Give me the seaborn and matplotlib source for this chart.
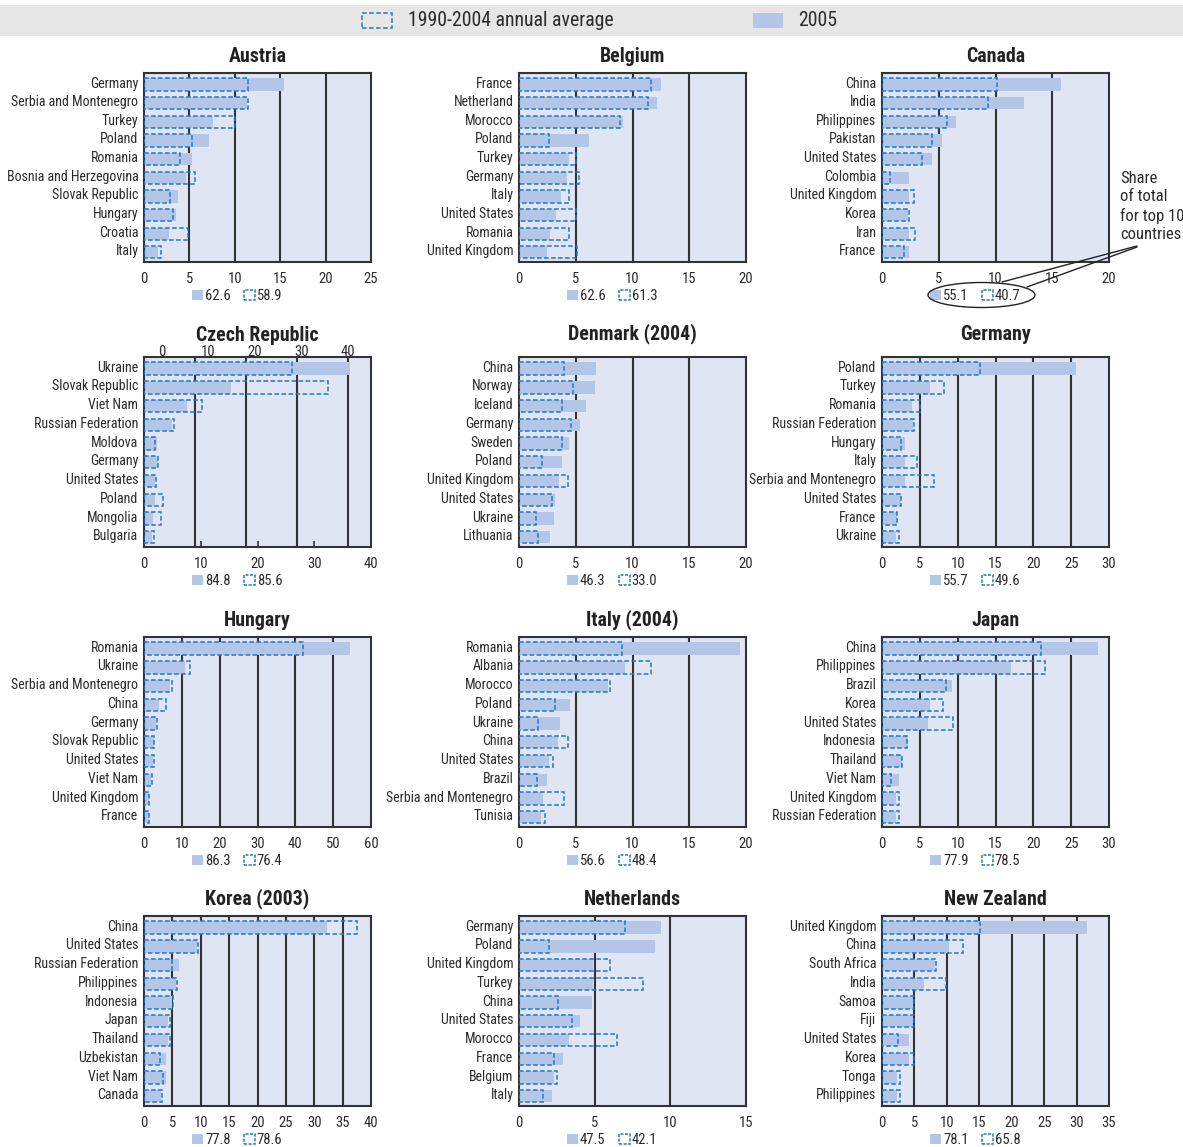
import matplotlib
matplotlib.use("Agg")
import matplotlib.pyplot as plt
import seaborn as sns
import numpy as np
from matplotlib import font_manager
from matplotlib.patches import Rectangle, Patch, Ellipse
from matplotlib.lines import Line2D
from matplotlib.transforms import ScaledTranslation

# ---------------- data: share of inflows by country of origin (%) ----------------
AUSTRIA_COUNTRIES = ["Germany", "Serbia and Montenegro", "Turkey", "Poland", "Romania",
                     "Bosnia and Herzegovina", "Slovak Republic", "Hungary", "Croatia", "Italy"]
AUSTRIA_2005 = [15.4, 11.3, 7.6, 7.2, 5.3, 4.6, 3.7, 3.5, 2.7, 1.5]
AUSTRIA_AVG = [11.4, 11.4, 10.0, 5.3, 4.0, 5.6, 2.9, 3.2, 4.8, 1.9]
AUSTRIA_TOTALS = [62.6, 58.9]

BELGIUM_COUNTRIES = ["France", "Netherland", "Morocco", "Poland", "Turkey", "Germany",
                     "Italy", "United States", "Romania", "United Kingdom"]
BELGIUM_2005 = [12.5, 12.2, 9.2, 6.2, 4.4, 4.2, 3.7, 3.3, 2.7, 2.5]
BELGIUM_AVG = [11.6, 11.4, 8.9, 2.6, 5.0, 5.3, 4.4, 5.0, 4.4, 5.1]
BELGIUM_TOTALS = [62.6, 61.3]

CANADA_COUNTRIES = ["China", "India", "Philippines", "Pakistan", "United States", "Colombia",
                    "United Kingdom", "Korea", "Iran", "France"]
CANADA_2005 = [15.8, 12.5, 6.5, 5.3, 4.4, 2.4, 2.4, 2.3, 2.4, 2.4]
CANADA_AVG = [10.1, 9.3, 5.7, 4.4, 3.5, 0.7, 2.8, 2.4, 2.9, 1.9]
CANADA_TOTALS = [55.1, 40.7]

CZECH_COUNTRIES = ["Ukraine", "Slovak Republic", "Viet Nam", "Russian Federation", "Moldova",
                   "Germany", "United States", "Poland", "Mongolia", "Bulgaria"]
CZECH_2005 = [36.3, 15.4, 7.6, 5.0, 2.3, 2.4, 2.0, 1.9, 1.5, 1.4]
CZECH_AVG = [26.0, 32.5, 10.3, 5.2, 2.0, 2.5, 2.1, 3.3, 3.0, 1.7]
CZECH_TOTALS = [84.8, 85.6]

DENMARK_COUNTRIES = ["China", "Norway", "Iceland", "Germany", "Sweden", "Poland",
                     "United Kingdom", "United States", "Ukraine", "Lithuania"]
DENMARK_2005 = [6.8, 6.7, 5.9, 5.4, 4.4, 3.8, 3.5, 3.2, 3.1, 2.7]
DENMARK_AVG = [4.0, 4.8, 3.8, 4.6, 3.8, 2.0, 4.3, 2.9, 1.5, 1.7]
DENMARK_TOTALS = [46.3, 33.0]

GERMANY_COUNTRIES = ["Poland", "Turkey", "Romania", "Russian Federation", "Hungary", "Italy",
                     "Serbia and Montenegro", "United States", "France", "Ukraine"]
GERMANY_2005 = [25.6, 6.3, 4.0, 4.1, 3.1, 3.1, 3.0, 2.5, 2.0, 1.8]
GERMANY_AVG = [12.9, 8.2, 5.0, 4.2, 2.5, 4.6, 6.9, 2.5, 2.0, 2.2]
GERMANY_TOTALS = [55.7, 49.6]

HUNGARY_COUNTRIES = ["Romania", "Ukraine", "Serbia and Montenegro", "China", "Germany",
                     "Slovak Republic", "United States", "Viet Nam", "United Kingdom", "France"]
HUNGARY_2005 = [54.5, 10.8, 6.9, 4.0, 3.3, 2.6, 2.4, 1.8, 1.2, 1.2]
HUNGARY_AVG = [42.1, 12.1, 7.3, 5.9, 3.5, 2.7, 2.6, 2.1, 1.4, 1.4]
HUNGARY_TOTALS = [86.3, 76.4]

ITALY_COUNTRIES = ["Romania", "Albania", "Morocco", "Poland", "Ukraine", "China",
                   "United States", "Brazil", "Serbia and Montenegro", "Tunisia"]
ITALY_2005 = [19.5, 9.3, 7.8, 4.5, 3.6, 3.4, 2.6, 2.5, 2.1, 1.9]
ITALY_AVG = [9.1, 11.6, 8.0, 3.2, 1.7, 4.3, 3.0, 1.6, 4.0, 2.3]
ITALY_TOTALS = [56.6, 48.4]

JAPAN_COUNTRIES = ["China", "Philippines", "Brazil", "Korea", "United States", "Indonesia",
                   "Thailand", "Viet Nam", "United Kingdom", "Russian Federation"]
JAPAN_2005 = [28.6, 17.1, 9.3, 6.3, 6.1, 3.5, 2.6, 2.2, 1.8, 1.8]
JAPAN_AVG = [21.0, 21.6, 8.5, 8.1, 9.4, 3.3, 2.6, 1.2, 2.3, 2.2]
JAPAN_TOTALS = [77.9, 78.5]

KOREA_COUNTRIES = ["China", "United States", "Russian Federation", "Philippines", "Indonesia",
                   "Japan", "Thailand", "Uzbekistan", "Viet Nam", "Canada"]
KOREA_2005 = [32.2, 9.4, 6.2, 5.7, 5.0, 4.3, 4.3, 3.8, 3.8, 3.0]
KOREA_AVG = [37.5, 9.5, 5.0, 5.8, 5.1, 4.6, 4.5, 2.8, 3.4, 3.1]
KOREA_TOTALS = [77.8, 78.6]

NETHERLANDS_COUNTRIES = ["Germany", "Poland", "United Kingdom", "Turkey", "China",
                         "United States", "Morocco", "France", "Belgium", "Italy"]
NETHERLANDS_2005 = [9.4, 9.0, 4.9, 4.9, 4.8, 4.0, 3.3, 2.9, 2.3, 2.2]
NETHERLANDS_AVG = [7.0, 2.0, 6.0, 8.2, 2.6, 3.5, 6.5, 2.3, 2.5, 1.6]
NETHERLANDS_TOTALS = [47.5, 42.1]

NZ_COUNTRIES = ["United Kingdom", "China", "South Africa", "India", "Samoa", "Fiji",
                "United States", "Korea", "Tonga", "Philippines"]
NZ_2005 = [31.6, 10.3, 8.2, 6.5, 4.8, 4.8, 4.1, 4.1, 2.3, 2.3]
NZ_AVG = [15.1, 12.5, 8.3, 9.9, 4.9, 4.9, 2.4, 4.9, 2.8, 2.8]
NZ_TOTALS = [78.1, 65.8]

PANEL_TITLES = ["Austria", "Belgium", "Canada", "Czech Republic", "Denmark (2004)", "Germany",
                "Hungary", "Italy (2004)", "Japan", "Korea (2003)", "Netherlands", "New Zealand"]
AXIS_MAX = [25, 20, 20, 40, 20, 30, 60, 20, 30, 40, 15, 35]
AXIS_STEP = [5, 5, 5, 10, 5, 5, 10, 5, 5, 5, 5, 5]

LEGEND_LABELS = ["1990-2004 annual average", "2005"]
NOTE_TEXT = "Share\nof total\nfor top 10\ncountries"

# ---------------- style ----------------
FILL = "#b4c6e7"
EDGE = "#1f78c8"
BG = "#dfe5f3"
DARK = "#333333"
TEXT = "#2b2b2b"
DASH = (0, (3.0, 1.6))

sns.set_theme(style="white")
available = {f.name for f in font_manager.fontManager.ttflist}
FONT = next((f for f in ["Liberation Sans Narrow", "Roboto Condensed", "Roboto", "DejaVu Sans"]
             if f in available), "DejaVu Sans")
plt.rcParams["font.family"] = [FONT, "DejaVu Sans"]

W, H = 1183, 1147
fig = plt.figure(figsize=(W / 100, H / 100), dpi=100)
fig.patch.set_facecolor("white")


def box(x0, y0, x1, y1):
    """pixel box (top-left origin) -> figure fraction rect"""
    return [x0 / W, 1 - y1 / H, (x1 - x0) / W, (y1 - y0) / H]


COLS = [(144, 371), (519, 746), (882, 1109)]
ROWS = [(73, 262), (357, 547), (637, 827), (916, 1106)]
ROW_TITLE_PAD = [8, 12.5, 8, 8]

panels = [
    (AUSTRIA_COUNTRIES, AUSTRIA_2005, AUSTRIA_AVG, AUSTRIA_TOTALS),
    (BELGIUM_COUNTRIES, BELGIUM_2005, BELGIUM_AVG, BELGIUM_TOTALS),
    (CANADA_COUNTRIES, CANADA_2005, CANADA_AVG, CANADA_TOTALS),
    (CZECH_COUNTRIES, CZECH_2005, CZECH_AVG, CZECH_TOTALS),
    (DENMARK_COUNTRIES, DENMARK_2005, DENMARK_AVG, DENMARK_TOTALS),
    (GERMANY_COUNTRIES, GERMANY_2005, GERMANY_AVG, GERMANY_TOTALS),
    (HUNGARY_COUNTRIES, HUNGARY_2005, HUNGARY_AVG, HUNGARY_TOTALS),
    (ITALY_COUNTRIES, ITALY_2005, ITALY_AVG, ITALY_TOTALS),
    (JAPAN_COUNTRIES, JAPAN_2005, JAPAN_AVG, JAPAN_TOTALS),
    (KOREA_COUNTRIES, KOREA_2005, KOREA_AVG, KOREA_TOTALS),
    (NETHERLANDS_COUNTRIES, NETHERLANDS_2005, NETHERLANDS_AVG, NETHERLANDS_TOTALS),
    (NZ_COUNTRIES, NZ_2005, NZ_AVG, NZ_TOTALS),
]

BAR_W = 0.66
LABEL_SIZE = 10
label_lift = ScaledTranslation(0, 2.5 / 100, fig.dpi_scale_trans)

for i, (countries, v_now, v_avg, totals) in enumerate(panels):
    r, c = divmod(i, 3)
    (x0, x1), (y0, y1) = COLS[c], ROWS[r]
    ax = fig.add_axes(box(x0, y0, x1, y1))
    ax.set_facecolor(BG)

    sns.barplot(x=v_now, y=countries, ax=ax, orient="h", color=FILL, saturation=1,
                width=BAR_W, errorbar=None, zorder=2, edgecolor="none", linewidth=0)
    n_before = len(ax.patches)
    sns.barplot(x=v_avg, y=countries, ax=ax, orient="h", color=EDGE, saturation=1,
                fill=False, width=BAR_W, errorbar=None, linewidth=1.1, zorder=3)
    for p in ax.patches[n_before:]:
        p.set_linestyle(DASH)
        p.set_edgecolor(EDGE)
        p.set_facecolor("none")

    xmax, step = AXIS_MAX[i], AXIS_STEP[i]
    ticks = np.arange(0, xmax + step / 2, step)
    ax.set_xlim(0, xmax)
    ax.set_ylim(9.52, -0.62)
    ax.set_xticks(ticks)
    ax.set_xticklabels([f"{t:g}" for t in ticks])
    ax.set_xlabel("")
    ax.set_ylabel("")
    ax.tick_params(axis="y", length=0, pad=4, labelsize=LABEL_SIZE, labelcolor=TEXT)
    ax.tick_params(axis="x", length=0, pad=7, labelsize=10.5, labelcolor=TEXT)
    for lab in ax.get_yticklabels():
        lab.set_transform(lab.get_transform() + label_lift)
    for s in ax.spines.values():
        s.set_visible(True)
        s.set_color(DARK)
        s.set_linewidth(1.5)

    title_pad = ROW_TITLE_PAD[r]
    if PANEL_TITLES[i] == "Czech Republic":
        # inner grid drawn on its own spacing, with short bottom ticks and a top scale
        for g in [9, 18, 27, 36]:
            ax.axvline(g, color=DARK, lw=1.5, zorder=1)
        ax.tick_params(axis="x", length=4, width=1.2, direction="in", color=DARK, pad=7)
        axt = ax.twiny()
        axt.set_xlim(-3.78, 44.99)
        axt.set_xticks([0, 10, 20, 30, 40])
        axt.tick_params(axis="x", length=0, pad=-1.5, labelsize=10.5, labelcolor=TEXT)
        for s in axt.spines.values():
            s.set_visible(False)
        axt.patch.set_visible(False)
        title_pad = 0
    else:
        for t in ticks[1:-1]:
            ax.axvline(t, color=DARK, lw=1.5, zorder=1)

    ax.set_title(PANEL_TITLES[i], fontsize=14.3, fontweight="bold", color="#222222", pad=title_pad)

    handles = [Patch(facecolor=FILL, edgecolor="none"),
               Patch(facecolor="none", edgecolor=EDGE, linestyle=(0, (2, 1)), linewidth=1.1)]
    ax.legend(handles, [f"{totals[0]:.1f}", f"{totals[1]:.1f}"], loc="center",
              bbox_to_anchor=(0.41, -0.18), ncol=2, frameon=False, handlelength=0.75,
              handleheight=0.75, handletextpad=0.15, columnspacing=0.9, fontsize=10.5,
              borderaxespad=0, borderpad=0, labelcolor=TEXT)

# ---------------- top legend band ----------------
fig.add_artist(Rectangle((0, 1 - 36 / H), 1, 31 / H, transform=fig.transFigure,
                         facecolor="#e6e6e6", edgecolor="none", zorder=0))
fig.add_artist(Rectangle((362 / W, 1 - 28 / H), 30 / W, 15 / H, transform=fig.transFigure,
                         facecolor="none", edgecolor=EDGE, linestyle=DASH, linewidth=1.1))
fig.text(408 / W, 1 - 20.5 / H, LEGEND_LABELS[0], fontsize=14.2, color=TEXT, va="center", ha="left")
fig.add_artist(Rectangle((753 / W, 1 - 28 / H), 30 / W, 15 / H, transform=fig.transFigure,
                         facecolor=FILL, edgecolor="none"))
fig.text(798 / W, 1 - 20.5 / H, LEGEND_LABELS[1], fontsize=14.2, color=TEXT, va="center", ha="left")

# ---------------- note pointing at the totals ----------------
fig.text(1120 / W, 1 - 171 / H, NOTE_TEXT, fontsize=12, color=TEXT, va="top", ha="left",
         linespacing=1.28)
fig.add_artist(Line2D([1137 / W, 1002 / W], [1 - 246 / H, 1 - 282 / H],
                      transform=fig.transFigure, color="#222222", lw=1))
fig.add_artist(Line2D([1137 / W, 1027 / W], [1 - 247 / H, 1 - 287 / H],
                      transform=fig.transFigure, color="#222222", lw=1))
fig.add_artist(Ellipse((981.5 / W, 1 - 295 / H), 107 / W, 25 / H, transform=fig.transFigure,
                       facecolor="none", edgecolor="#222222", lw=1))

fig.savefig("out.png", dpi=100, facecolor="white")
